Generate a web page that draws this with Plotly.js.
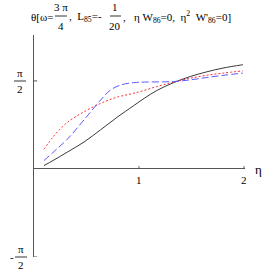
<!DOCTYPE html>
<html><head><meta charset="utf-8">
<script src="https://cdn.plot.ly/plotly-3.0.1.min.js"></script>
<style>html,body{margin:0;padding:0;background:#fff}#c{width:273px;height:273px}</style>
</head><body><div id="c"></div>
<script>
// data
const etaBlack = [0.095, 0.19, 0.317, 0.476, 0.635, 0.79, 0.95, 1.05, 1.17, 1.33, 1.49, 1.64, 1.80, 1.99];
const thBlack  = [0.06, 0.16, 0.30, 0.48, 0.70, 0.92, 1.13, 1.26, 1.40, 1.54, 1.65, 1.73, 1.80, 1.86];
const etaRed   = [0.095, 0.19, 0.317, 0.476, 0.635, 0.79, 0.95, 1.01, 1.17, 1.33, 1.49, 1.64, 1.80, 1.99];
const thRed    = [0.35, 0.59, 0.83, 1.02, 1.17, 1.28, 1.35, 1.38, 1.47, 1.55, 1.62, 1.67, 1.71, 1.75];
const etaBlue  = [0.095, 0.19, 0.317, 0.476, 0.635, 0.73, 0.83, 0.95, 1.05, 1.33, 1.49, 1.64, 1.80, 1.99];
const thBlue   = [0.15, 0.31, 0.53, 0.875, 1.23, 1.41, 1.50, 1.54, 1.55, 1.56, 1.59, 1.63, 1.67, 1.71];
const xTicks = [1, 2];
const xTickLabels = ['1', '2'];

const F = 'Liberation Serif, serif';
const L = 34, T = 35, W = 211, H = 222;
const P = (x, y) => ({x: (x - L) / W, y: (T + H - y) / H});
function ann(text, x, y, size, anchor) {
  const p = P(x, y);
  return {xref: 'paper', yref: 'paper', x: p.x, y: p.y, text: text, showarrow: false,
    xanchor: anchor || 'center', yanchor: 'middle', font: {family: F, size: size || 11, color: '#000'}};
}
function bar(x0, x1, y) {
  const a = P(x0, y), b = P(x1, y);
  return {type: 'line', xref: 'paper', yref: 'paper', x0: a.x, x1: b.x, y0: a.y, y1: b.y,
    line: {color: '#000', width: 0.8}};
}
const annotations = [
  ann('θ[ω=', 29, 17, 11, 'left'),
  ann('3 π', 61, 7, 11), ann('4', 61, 26, 11),
  ann(',  L<sub>85</sub>=-', 67, 17, 11, 'left'),
  ann('1', 115, 7, 11), ann('20', 115, 26, 11),
  ann(',   η W<sub>86</sub>=0,  η<sup>2</sup>  W\'<sub>86</sub>=0]', 121, 17, 11, 'left'),
  ann('π', 20, 73, 11), ann('2', 20, 89, 11),
  ann('-', 12, 257, 11), ann('π', 21, 249, 11), ann('2', 21, 265, 11),
  ann('η', 258, 169, 13)
];
xTicks.forEach((v, i) => annotations.push({xref: 'x', yref: 'y', x: v, y: 0, yshift: -11,
  text: xTickLabels[i], showarrow: false, font: {family: F, size: 11, color: '#000'}}));
const shapes = [bar(55, 67, 16), bar(110, 121, 16), bar(14, 26, 81), bar(15, 27, 257)];
xTicks.forEach(v => shapes.push({type: 'line', xref: 'x', yref: 'y', x0: v, x1: v, y0: 0, y1: 0.05,
  line: {color: '#555', width: 1}}));
[Math.PI / 2, -Math.PI / 2].forEach(v => shapes.push({type: 'line', xref: 'x', yref: 'y', x0: 0, x1: 0.03, y0: v, y1: v,
  line: {color: '#555', width: 1}}));

const traces = [
  {x: etaBlack, y: thBlack, mode: 'lines', line: {color: '#222', width: 0.9, shape: 'spline', smoothing: 1}},
  {x: etaRed, y: thRed, mode: 'lines', line: {color: '#ff3030', width: 1, dash: '2px,2px', shape: 'spline', smoothing: 1}},
  {x: etaBlue, y: thBlue, mode: 'lines', line: {color: '#5a5aff', width: 1, dash: '7px,3px', shape: 'spline', smoothing: 1}}
];
Plotly.newPlot('c', traces, {
  width: 273, height: 273, margin: {l: L, r: 273 - L - W, t: T, b: 273 - T - H},
  paper_bgcolor: '#fff', plot_bgcolor: '#fff', showlegend: false,
  xaxis: {range: [0, 2.01], showgrid: false, zeroline: false, showline: false, showticklabels: false, ticks: ''},
  yaxis: {range: [-Math.PI / 2, 2.39], showgrid: false, zeroline: true, zerolinecolor: '#555', zerolinewidth: 1,
    showline: true, linecolor: '#555', linewidth: 1, showticklabels: false, ticks: ''},
  annotations: annotations, shapes: shapes
}, {staticPlot: true});
</script></body></html>
